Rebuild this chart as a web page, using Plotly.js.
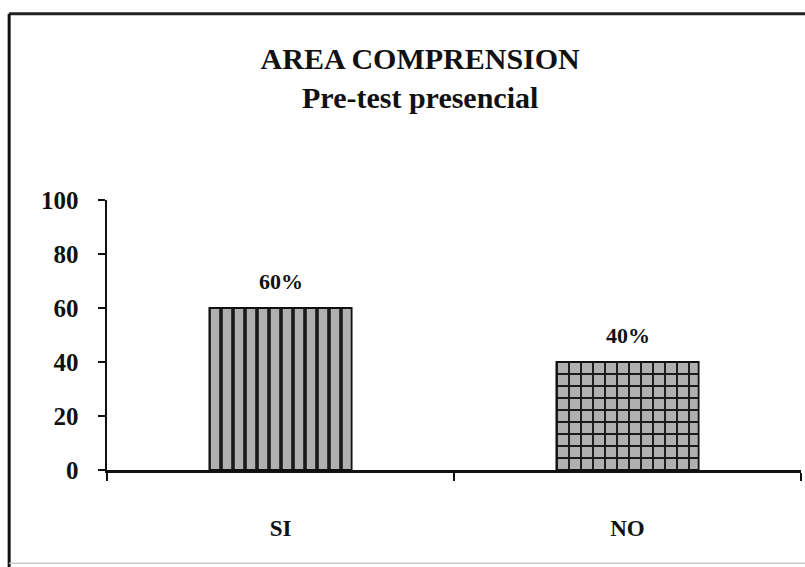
<!DOCTYPE html>
<html>
<head>
<meta charset="utf-8">
<script src="https://cdn.plot.ly/plotly-3.0.1.min.js"></script>
<style>html,body{margin:0;padding:0;background:#fff;}#chart{width:805px;height:567px;}</style>
</head>
<body>
<div id="chart"></div>
<script>
const categories = ['SI', 'NO'];
const values = [60, 40];
const valueLabels = ['60%', '40%'];
const yTicks = [0, 20, 40, 60, 80, 100];

const FONT = '"Liberation Serif", "DejaVu Serif", serif';

const trace = {
  type: 'bar',
  x: categories,
  y: values,
  width: 0.41,
  marker: {
    color: '#a8a8a8',
    line: {color: '#111', width: 1.8},
    pattern: {
      shape: ['|', '+'],
      fgcolor: '#1a1a1a',
      bgcolor: '#b0b0b0',
      size: 12,
      solidity: 0.3
    }
  },
  hoverinfo: 'skip'
};

const annotations = categories.map((c, i) => ({
  x: c, y: values[i], xref: 'x', yref: 'y',
  text: valueLabels[i], showarrow: false,
  yanchor: 'bottom', yshift: 12,
  font: {family: FONT, size: 22, color: '#111', weight: 'bold'}
}));

const layout = {
  width: 805,
  height: 567,
  margin: {l: 107, r: 4, t: 200, b: 97},
  paper_bgcolor: '#fff',
  plot_bgcolor: '#fff',
  showlegend: false,
  font: {family: FONT, color: '#111'},
  title: {
    text: '<b>AREA COMPRENSION</b><br><b>Pre-test presencial</b>',
    x: 0.522, xanchor: 'center',
    y: 0.878, yanchor: 'top',
    font: {family: FONT, size: 30, color: '#111'}
  },
  annotations: annotations,
  xaxis: {
    type: 'category',
    showline: true, linecolor: '#111', linewidth: 2.5,
    ticks: 'outside', tickson: 'boundaries', ticklen: 8, tickwidth: 2, tickcolor: '#111',
    ticklabelstandoff: 36,
    tickfont: {family: FONT, size: 23, color: '#111', weight: 'bold'},
    showgrid: false, zeroline: false
  },
  yaxis: {
    range: [0, 100],
    tickvals: yTicks,
    showline: true, linecolor: '#111', linewidth: 2.5,
    ticks: 'outside', ticklen: 7, tickwidth: 2, tickcolor: '#111',
    ticklabelstandoff: 14,
    tickfont: {family: FONT, size: 25, color: '#111', weight: 'bold'},
    showgrid: false, zeroline: false
  },
  shapes: [
    {type: 'line', xref: 'paper', yref: 'paper', x0: -0.141, x1: 1.02, y0: 1.69, y1: 1.69, line: {color: '#222', width: 3}},
    {type: 'line', xref: 'paper', yref: 'paper', x0: -0.141, x1: -0.141, y0: 1.69, y1: -0.36, line: {color: '#111', width: 3}},
    {type: 'line', xref: 'paper', yref: 'paper', x0: -0.141, x1: 1.02, y0: -0.345, y1: -0.345, line: {color: '#ccc', width: 1.5}}
  ]
};

Plotly.newPlot('chart', [trace], layout, {displayModeBar: false, staticPlot: true});
</script>
</body>
</html>
